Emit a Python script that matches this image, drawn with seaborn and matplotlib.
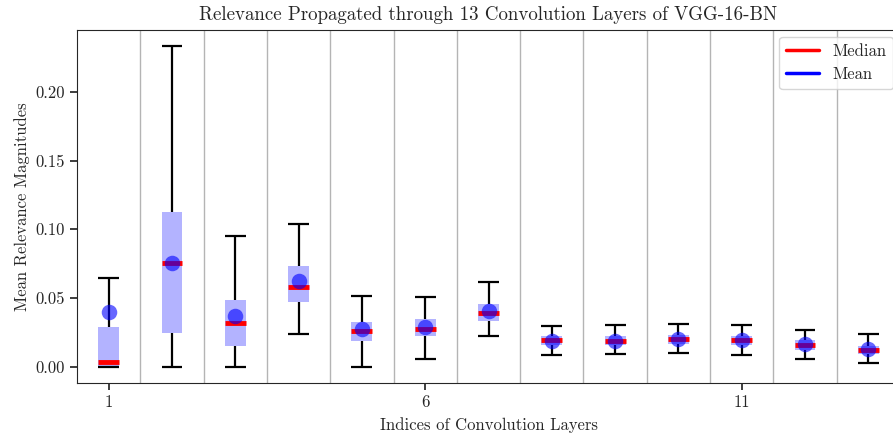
import matplotlib
matplotlib.use("Agg")
import matplotlib.pyplot as plt
from matplotlib.lines import Line2D
import numpy as np
import pandas as pd
import seaborn as sns

# Per-layer relevance statistics for the 13 convolution layers of VGG-16-BN
layers = list(range(1, 14))
whisker_low = [0.0, 0.0, 0.0, 0.0236, 0.0, 0.0058, 0.0221, 0.0083, 0.0090, 0.0102, 0.0083, 0.0058, 0.0027]
q1 = [0.0, 0.0247, 0.0151, 0.0468, 0.0189, 0.0221, 0.0335, 0.0156, 0.0156, 0.0165, 0.0158, 0.0124, 0.0090]
median = [0.0032, 0.0752, 0.0316, 0.0577, 0.0262, 0.0272, 0.0388, 0.0192, 0.0190, 0.0199, 0.0192, 0.0160, 0.0119]
q3 = [0.0287, 0.1123, 0.0483, 0.0730, 0.0327, 0.0345, 0.0454, 0.0223, 0.0223, 0.0230, 0.0226, 0.0192, 0.0153]
whisker_high = [0.0643, 0.2335, 0.0951, 0.1036, 0.0512, 0.0505, 0.0614, 0.0296, 0.0303, 0.0310, 0.0301, 0.0269, 0.0238]
mean = [0.0396, 0.0755, 0.0367, 0.0623, 0.0276, 0.0289, 0.0407, 0.0190, 0.0190, 0.0203, 0.0195, 0.0167, 0.0130]

df = pd.DataFrame({
    "layer": layers, "lo": whisker_low, "q1": q1, "med": median,
    "q3": q3, "hi": whisker_high, "mean": mean,
})
df["iqr"] = df["q3"] - df["q1"]

sns.set_style("ticks")
plt.rcParams["font.family"] = ["cmr10", "DejaVu Serif"]
plt.rcParams["axes.formatter.use_mathtext"] = True
plt.rcParams["mathtext.fontset"] = "cm"

fig = plt.figure(figsize=(8.93, 4.37), dpi=100)
ax = fig.add_axes([77 / 893, 54 / 437, 823 / 893, 353 / 437])

box_w = 0.33

# layer separators
for s in np.arange(1.5, 13.5, 1.0):
    ax.axvline(s, color="#b4b4b4", lw=1.0, zorder=0)

# interquartile boxes
sns.barplot(data=df, x="layer", y="iqr", bottom=df["q1"].to_numpy(),
            native_scale=True, width=box_w, color=(0.7, 0.7, 1.0),
            saturation=1, edgecolor="none", linewidth=0, ax=ax, zorder=1)

# whiskers and caps
ax.vlines(df["layer"], df["lo"], df["q1"], color="black", lw=1.6, zorder=2)
ax.vlines(df["layer"], df["q3"], df["hi"], color="black", lw=1.6, zorder=2)
ax.hlines(df["lo"], df["layer"] - box_w / 2, df["layer"] + box_w / 2, color="black", lw=1.6, zorder=2)
ax.hlines(df["hi"], df["layer"] - box_w / 2, df["layer"] + box_w / 2, color="black", lw=1.6, zorder=2)

# medians
ax.hlines(df["med"], df["layer"] - box_w / 2, df["layer"] + box_w / 2, color="red", lw=3.5, zorder=3)

# means
sns.scatterplot(data=df, x="layer", y="mean", color="blue", alpha=0.6, s=125,
                linewidth=0, ax=ax, zorder=4, legend=False)

ax.set_xlim(0.5, 13.5)
ax.set_ylim(-0.0119, 0.245)
ax.set_xticks([1, 6, 11])
ax.set_xticklabels(["1", "6", "11"])
ax.set_yticks([0.0, 0.05, 0.10, 0.15, 0.20])
ax.set_yticklabels(["0.00", "0.05", "0.10", "0.15", "0.20"])
ax.tick_params(labelsize=12, length=5, width=1.25)

ax.set_xlabel("Indices of Convolution Layers", fontsize=12, labelpad=5)
ax.set_ylabel("Mean Relevance Magnitudes", fontsize=12)
ax.set_title("Relevance Propagated through 13 Convolution Layers of VGG-16-BN", fontsize=13.6, pad=7)

handles = [Line2D([0], [0], color="red", lw=2.5), Line2D([0], [0], color="blue", lw=2.5)]
ax.legend(handles, ["Median", "Mean"], loc="upper right", fontsize=12, frameon=True,
          borderaxespad=0.4)

for side in ("left", "bottom", "top", "right"):
    ax.spines[side].set_visible(True)

fig.savefig("out.png", dpi=100)
